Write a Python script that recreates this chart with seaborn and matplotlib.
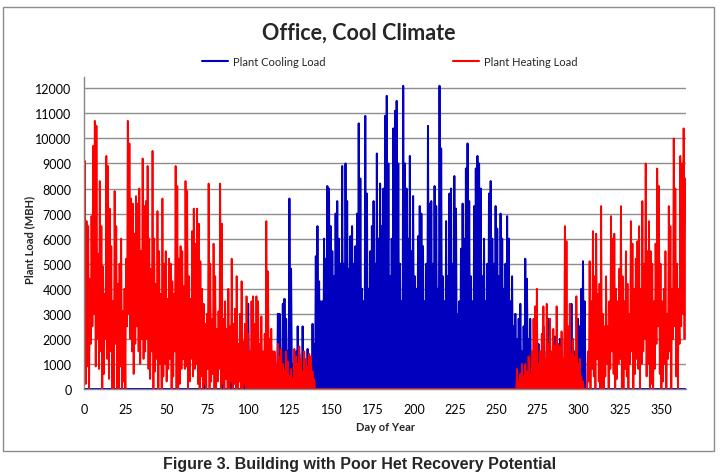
import numpy as np
import pandas as pd
import matplotlib
matplotlib.use('Agg')
import matplotlib.pyplot as plt
import seaborn as sns
from matplotlib.patches import Rectangle
from matplotlib.lines import Line2D

# Daily peak / daily low plant loads (MBH), day 0..364
heating_peak = [
    9100, 6700, 6500, 4400, 6900, 9700, 10700, 10500, 5400, 8300,
    6500, 4900, 3800, 9300, 8900, 7200, 5700, 3500, 7900, 6500,
    4200, 5000, 6000, 3100, 4000, 5200, 10700, 9800, 7600, 7400,
    6200, 7700, 7400, 8000, 5500, 9200, 7300, 7500, 8900, 6000,
    4800, 9500, 6000, 4200, 7100, 5500, 3800, 7600, 5000, 5500,
    3600, 5200, 5000, 4300, 3800, 8900, 8100, 5200, 5700, 5500,
    4100, 8300, 7900, 4500, 3600, 6300, 7200, 5800, 7200, 6600,
    5100, 4000, 3400, 2600, 3000, 8200, 5000, 2800, 5800, 4500,
    2400, 3100, 8200, 6600, 2800, 3500, 2400, 4000, 2500, 5200,
    2600, 3200, 4500, 1800, 3000, 4300, 1900, 2600, 3700, 2200,
    1500, 3500, 3700, 2600, 3700, 3500, 1800, 2900, 1500, 2200,
    6700, 4700, 2000, 2400, 1500, 1500, 1000, 1800, 1300, 1600,
    1000, 700, 1500, 1100, 500, 800, 400, 1600, 1300, 1000,
    1700, 1200, 700, 1500, 1200, 900, 1400, 1300, 700, 400,
    0, 0, 0, 0, 0, 0, 0, 0, 0, 0, 0, 0, 0, 0, 0, 0, 0, 0, 0, 0,
    0, 0, 0, 0, 0, 0, 0, 0, 0, 0, 0, 0, 0, 0, 0, 0, 0, 0, 0, 0,
    0, 0, 0, 0, 0, 0, 0, 0, 0, 0, 0, 0, 0, 0, 0, 0, 0, 0, 0, 0,
    0, 0, 0, 0, 0, 0, 0, 0, 0, 0, 0, 0, 0, 0, 0, 0, 0, 0, 0, 0,
    0, 0, 0, 0, 0, 0, 0, 0, 0, 0, 0, 0, 0, 0, 0, 0, 0, 0, 0, 0,
    0, 0, 0, 0, 0, 0, 0, 0, 0, 0, 0, 0, 0, 0, 0, 0, 0, 0, 0, 0,
    0, 0,
    800, 300, 600, 1000, 500, 1000, 700, 1300, 600, 1500,
    2800, 3300, 4000, 1000, 1500, 2200, 3300, 1200, 3400, 1800,
    2800, 1500, 2400, 1700, 3300, 1800, 1700, 2300, 1200, 6500,
    5900, 2500, 3400, 1400, 2000, 1300, 3700, 1000, 1200, 500,
    300, 0, 0, 1500, 5100, 3500, 6300, 4500, 6200, 3800,
    4200, 7300, 3000, 2500, 4500, 2500, 3500, 6900, 6000, 6200,
    4000, 3500, 4800, 7300, 4500, 3500, 5500, 4200, 3000, 6700,
    5800, 4000, 5200, 5900, 6500, 4000, 7500, 5000, 9000, 5500,
    6700, 5500, 5000, 3500, 5800, 8800, 8100, 5000, 3500, 4000,
    5500, 3000, 7300, 6500, 4000, 10000, 8000, 5000, 4000, 9300,
    9000, 10400, 8400,
]

heating_low = [
    1200, 200, 900, 0, 1800, 2500, 3000, 900, 2000, 800,
    1500, 0, 600, 2000, 1200, 400, 1500, 0, 0, 1800,
    0, 0, 900, 0, 300, 0, 2500, 3000, 2000, 1500,
    600, 1800, 2500, 1500, 1000, 2000, 1200, 1500, 2000, 800,
    400, 1500, 0, 700, 1200, 0, 1000, 0, 500, 1000,
    300, 800, 1200, 0, 500, 1500, 0, 0, 200, 800,
    1200, 800, 900, 0, 300, 1200, 500, 800, 1000, 200,
    0, 500, 0, 200, 0, 800, 0, 300, 600, 0,
    0, 300, 800, 0, 200, 0, 400, 0, 0, 300,
    0, 200, 0, 0, 300, 0, 0, 200, 0, 0,
    0, 0, 0, 0, 0, 0, 0, 0, 0, 0, 0, 0, 0, 0, 0, 0, 0, 0, 0, 0,
    0, 0, 0, 0, 0, 0, 0, 0, 0, 0, 0, 0, 0, 0, 0, 0, 0, 0, 0, 0,
    0, 0, 0, 0, 0, 0, 0, 0, 0, 0, 0, 0, 0, 0, 0, 0, 0, 0, 0, 0,
    0, 0, 0, 0, 0, 0, 0, 0, 0, 0, 0, 0, 0, 0, 0, 0, 0, 0, 0, 0,
    0, 0, 0, 0, 0, 0, 0, 0, 0, 0, 0, 0, 0, 0, 0, 0, 0, 0, 0, 0,
    0, 0, 0, 0, 0, 0, 0, 0, 0, 0, 0, 0, 0, 0, 0, 0, 0, 0, 0, 0,
    0, 0, 0, 0, 0, 0, 0, 0, 0, 0, 0, 0, 0, 0, 0, 0, 0, 0, 0, 0,
    0, 0, 0, 0, 0, 0, 0, 0, 0, 0, 0, 0, 0, 0, 0, 0, 0, 0, 0, 0,
    0, 0, 0, 0, 0, 0, 0, 0, 0, 0, 0, 0, 0, 0, 0, 0, 0, 0, 0, 0,
    0, 0, 0, 0, 0, 0, 0, 0, 0, 0, 0, 0, 0, 0, 0, 0, 0, 0, 0, 0,
    0, 0, 0, 0, 0,
    0, 300, 0, 800, 500, 0, 1200, 300, 0, 0,
    0, 500, 1000, 0, 800, 1500, 600, 0, 400, 1000,
    1200, 0, 0, 800, 500, 0, 1000, 1500, 0, 600,
    1200, 800, 0, 1000, 1500, 2000, 500, 1000, 0, 200,
    0, 800, 1800, 2500, 600, 0, 300, 1000, 0, 1200,
    1500, 0, 2000, 2500, 500, 0, 1800, 2500, 3000, 2000,
]

cooling_peak = [
    0, 0, 0, 0, 0, 0, 0, 0, 0, 0, 0, 0, 0, 0, 0, 0, 0, 0, 0, 0,
    0, 0, 0, 0, 0, 0, 0, 0, 0, 0, 0, 0, 0, 0, 0, 0, 0, 0, 0, 0,
    0, 0, 0, 0, 0, 0, 0, 0, 0, 0, 0, 0, 0, 0, 0, 0, 0, 0, 0, 0,
    0, 0, 0, 0, 0, 0, 0, 0, 0, 0,
    0, 0, 0, 2000, 0, 0, 0, 0, 0, 300,
    0, 0, 0, 500, 0, 0, 0, 0, 800, 1500,
    0, 0, 600, 0, 0, 0, 1000, 0, 0, 3400,
    800, 0, 0, 0, 500, 0, 0, 1300, 0, 0,
    0, 0, 600, 1500, 0, 0, 1000, 3000, 3000, 1200,
    3400, 3600, 2800, 1500, 7600, 4800, 1000, 800, 1500, 2500,
    1400, 800, 2500, 1200, 600, 1600, 900, 1000, 2600, 1800,
    5300, 6500, 4300, 3500, 3500, 6000, 5200, 8100, 8000, 6500,
    5500, 4500, 7000, 7500, 6000, 5000, 8900, 5000, 9000, 7500,
    4800, 6100, 6500, 5000, 5700, 7000, 10600, 8400, 4000, 3500,
    10900, 7800, 4000, 5500, 6500, 7500, 5000, 9400, 6000, 8200,
    6500, 8000, 10900, 11700, 9000, 4500, 6000, 10400, 11100, 11500,
    9000, 5000, 3500, 12100, 9000, 8000, 6000, 9300, 5500, 7700,
    4500, 4000, 6100, 7300, 7000, 5700, 3500, 5000, 10500, 7400,
    7500, 5000, 8100, 7300, 4000, 12100, 9600, 4500, 3500, 6700,
    4500, 7800, 8000, 5000, 8500, 7200, 3000, 3500, 5600, 7400,
    6000, 8800, 9800, 7500, 4500, 3500, 7300, 8800, 9300, 9000,
    8000, 4500, 6000, 3500, 5000, 7800, 8300, 6000, 5000, 7300,
    6400, 4500, 7000, 6000, 4000, 5000, 6900, 6000, 3500, 4500,
    2500, 3000, 2000, 2800, 3400, 1500, 2500, 5200, 4400, 2000,
    2800, 1200, 1500, 2000, 1000, 1800, 1200, 1500, 2500, 1000,
    1500, 2800, 1200, 1000, 1800, 2100, 1000, 1500, 2000, 800,
    1200, 2000, 1000, 1500, 800, 3400, 1200, 1500, 1000, 2800,
    2500, 4000, 5100, 3500, 0,
    0, 0, 0, 0, 0, 0, 0, 0, 0, 0, 0, 0, 0, 0, 0, 0, 0, 0, 0, 0,
    0, 0, 0, 0, 0, 0, 0, 0, 0, 0, 0, 0, 0, 0, 0, 0, 0, 0, 0, 0,
    0, 0, 0, 0, 0, 0, 0, 0, 0, 0, 0, 0, 0, 0, 0, 0, 0, 0, 0, 0,
]
cooling_low = 0  # cooling plant is off overnight

series_labels = ['Plant Cooling Load', 'Plant Heating Load']
series_colors = ['#0000BE', '#FF0000']
x_ticks = list(range(0, 351, 25))
y_ticks = list(range(0, 12001, 1000))

# one low point (night) and one peak point (day) per day
days = np.arange(len(heating_peak))
x = np.column_stack([days + 0.1, days + 0.55]).ravel()
cool_df = pd.DataFrame({'day': x, 'load': np.column_stack(
    [np.full(len(days), cooling_low), cooling_peak]).ravel()})
heat_df = pd.DataFrame({'day': x, 'load': np.column_stack(
    [heating_low, heating_peak]).ravel()})

sns.set_style('white')
plt.rcParams['font.family'] = ['Lato', 'DejaVu Sans']

fig = plt.figure(figsize=(7.2, 4.77), dpi=100)
ax = fig.add_axes([84 / 720, 1 - 390 / 477, 602 / 720, 312 / 477])

sns.lineplot(data=cool_df, x='day', y='load', ax=ax, color=series_colors[0],
             lw=1.4, estimator=None, sort=False, legend=False)
sns.lineplot(data=heat_df, x='day', y='load', ax=ax, color=series_colors[1],
             lw=1.3, estimator=None, sort=False, legend=False)

ax.set_xlim(0, 365)
ax.set_ylim(0, 12450)
ax.set_xticks(x_ticks)
ax.set_yticks(y_ticks)
ax.set_xticklabels([str(t) for t in x_ticks])
ax.set_yticklabels([str(t) for t in y_ticks])
ax.tick_params(axis='both', labelsize=9, colors='#888888', labelcolor='black',
               length=4, width=1, direction='out')
ax.tick_params(axis='x', pad=6)
ax.tick_params(axis='y', pad=5)
ax.grid(axis='y', color='#8e8e8e', lw=1)
ax.grid(axis='x', visible=False)
ax.set_axisbelow(True)
for s in ['top', 'right']:
    ax.spines[s].set_visible(False)
for s in ['left', 'bottom']:
    ax.spines[s].set_color('#888888')
    ax.spines[s].set_linewidth(1)
ax.set_xlabel('')
ax.set_ylabel('')

fig.text(359 / 720, 1 - 33 / 477, 'Office, Cool Climate', ha='center',
         va='center', fontsize=15.5, fontweight='bold')
fig.text(30 / 720, 1 - 240 / 477, 'Plant Load (MBH)', rotation=90,
         ha='center', va='center', fontsize=8, fontweight='bold')
fig.text(385 / 720, 1 - 428 / 477, 'Day of Year', ha='center', va='center',
         fontsize=8, fontweight='bold')

handles = [Line2D([], [], color=c, lw=1.5) for c in series_colors]
fig.legend(handles, series_labels, loc='center', bbox_to_anchor=(390 / 720, 1 - 62 / 477),
           ncol=2, frameon=False, fontsize=8, handlelength=2.3,
           handletextpad=0.5, columnspacing=11.5)

fig.patches.append(Rectangle((3 / 720, 1 - 452 / 477), 711 / 720, 444 / 477,
                             transform=fig.transFigure, fill=False,
                             edgecolor='#8c8c8c', lw=1))
fig.text(360 / 720, 1 - 465 / 477, 'Figure 3. Building with Poor Het Recovery Potential',
         ha='center', va='center', fontsize=11.5, fontweight='bold',
         family=['Liberation Sans', 'DejaVu Sans'])

fig.savefig('out.png', dpi=100)
